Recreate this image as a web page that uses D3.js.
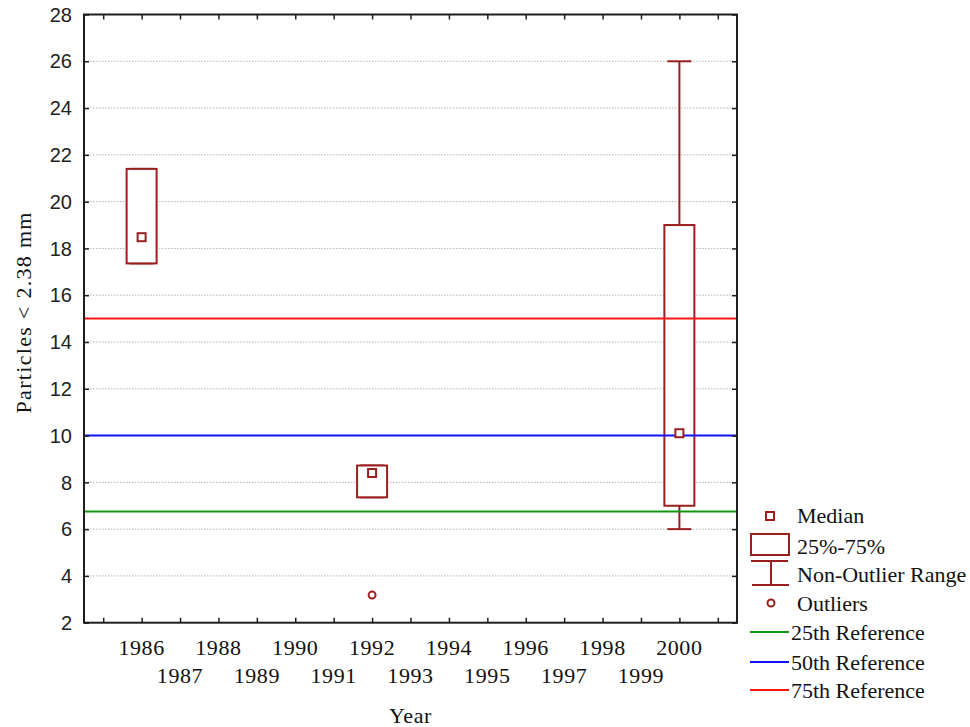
<!DOCTYPE html>
<html>
<head>
<meta charset="utf-8">
<script src="https://cdn.jsdelivr.net/npm/d3@7"></script>
<style>
  body { margin: 0; background: #fff; }
  svg { display: block; }
</style>
</head>
<body>
<svg id="chart" width="970" height="727"></svg>
<script>
// data
var years = [1986, 1992, 2000];
var q1 = [17.36, 7.36, 7.0];
var q3 = [21.4, 8.72, 19.0];
var medians = [18.48, 8.4, 10.1];
var whiskerLow = [17.36, 7.36, 6.0];
var whiskerHigh = [21.4, 8.72, 26.0];
var outlierYears = [1992];
var outlierValues = [3.18];

var refNames = ["25th Reference", "50th Reference", "75th Reference"];
var refValues = [6.75, 10, 15];
var refColors = ["#149614", "#1010ff", "#ff1414"];

var yTicks = [2, 4, 6, 8, 10, 12, 14, 16, 18, 20, 22, 24, 26, 28];
var xTicks = d3.range(1985, 2002);
var xLabels = d3.range(1986, 2001);

var boxColor = "#9a1f1f";
var serif = "'Liberation Serif', 'Times New Roman', serif";
var sans = "'Liberation Sans', Arial, sans-serif";

// plot frame
var pLeft = 84, pRight = 737, pTop = 14.5, pBottom = 622.7;

var svg = d3.select("#chart");

var x = d3.scaleLinear()
    .domain([1984.5, 2001.5])
    .range([pLeft, pRight]);

var y = d3.scaleLinear()
    .domain([2, 28])
    .range([pBottom, pTop]);

// dotted grid
svg.append("g")
    .selectAll("line")
    .data(yTicks.slice(1, -1))
    .enter()
    .append("line")
    .attr("x1", pLeft).attr("x2", pRight)
    .attr("y1", function (d) { return y(d); })
    .attr("y2", function (d) { return y(d); })
    .attr("stroke", "#b4b4b4")
    .attr("stroke-width", 1)
    .attr("stroke-dasharray", "1.5,1.5");

// boxes
var boxW = 30, capW = 24, medS = 8;
var boxes = svg.append("g");

years.forEach(function (yr, i) {
    var cx = x(yr);
    boxes.append("line")
        .attr("x1", cx).attr("x2", cx)
        .attr("y1", y(whiskerHigh[i])).attr("y2", y(whiskerLow[i]))
        .attr("stroke", boxColor).attr("stroke-width", 2);
    boxes.append("line")
        .attr("x1", cx - capW / 2).attr("x2", cx + capW / 2)
        .attr("y1", y(whiskerHigh[i])).attr("y2", y(whiskerHigh[i]))
        .attr("stroke", boxColor).attr("stroke-width", 2);
    boxes.append("line")
        .attr("x1", cx - capW / 2).attr("x2", cx + capW / 2)
        .attr("y1", y(whiskerLow[i])).attr("y2", y(whiskerLow[i]))
        .attr("stroke", boxColor).attr("stroke-width", 2);
    boxes.append("rect")
        .attr("x", cx - boxW / 2)
        .attr("y", y(q3[i]))
        .attr("width", boxW)
        .attr("height", y(q1[i]) - y(q3[i]))
        .attr("fill", "#fff")
        .attr("stroke", boxColor).attr("stroke-width", 2);
});

// reference lines
svg.append("g")
    .selectAll("line")
    .data(refValues)
    .enter()
    .append("line")
    .attr("x1", pLeft).attr("x2", pRight)
    .attr("y1", function (d) { return y(d); })
    .attr("y2", function (d) { return y(d); })
    .attr("stroke", function (d, i) { return refColors[i]; })
    .attr("stroke-width", 2);

// medians and outliers
svg.append("g")
    .selectAll("rect")
    .data(medians)
    .enter()
    .append("rect")
    .attr("x", function (d, i) { return x(years[i]) - medS / 2; })
    .attr("y", function (d) { return y(d) - medS / 2; })
    .attr("width", medS).attr("height", medS)
    .attr("fill", "#fff")
    .attr("stroke", boxColor).attr("stroke-width", 2);

svg.append("g")
    .selectAll("circle")
    .data(outlierValues)
    .enter()
    .append("circle")
    .attr("cx", function (d, i) { return x(outlierYears[i]); })
    .attr("cy", function (d) { return y(d); })
    .attr("r", 3.5)
    .attr("fill", "#fff")
    .attr("stroke", boxColor).attr("stroke-width", 2);

// axes (ticks inward on all four sides)
var axisColor = "#1e1e1e";
function styleTicks(g) {
    g.select(".domain").remove();
    g.selectAll("line").attr("stroke", axisColor).attr("stroke-width", 1.5);
}
svg.append("g")
    .attr("transform", "translate(" + pLeft + ",0)")
    .call(d3.axisRight(y).tickValues(yTicks).tickSize(5).tickFormat(""))
    .call(styleTicks);
svg.append("g")
    .attr("transform", "translate(" + pRight + ",0)")
    .call(d3.axisLeft(y).tickValues(yTicks).tickSize(5).tickFormat(""))
    .call(styleTicks);
svg.append("g")
    .attr("transform", "translate(0," + pBottom + ")")
    .call(d3.axisTop(x).tickValues(xTicks).tickSize(5).tickFormat(""))
    .call(styleTicks);
svg.append("g")
    .attr("transform", "translate(0," + pTop + ")")
    .call(d3.axisBottom(x).tickValues(xTicks).tickSize(5).tickFormat(""))
    .call(styleTicks);

svg.append("rect")
    .attr("x", pLeft).attr("y", pTop)
    .attr("width", pRight - pLeft).attr("height", pBottom - pTop)
    .attr("fill", "none")
    .attr("stroke", axisColor).attr("stroke-width", 2);

// tick labels
svg.append("g")
    .selectAll("text")
    .data(yTicks)
    .enter()
    .append("text")
    .attr("x", 72)
    .attr("y", function (d) { return y(d); })
    .attr("dy", "0.36em")
    .attr("text-anchor", "end")
    .style("font-family", sans)
    .style("font-size", "20px")
    .style("fill", "#222")
    .text(function (d) { return d; });

svg.append("g")
    .selectAll("text")
    .data(xLabels)
    .enter()
    .append("text")
    .attr("x", function (d) { return x(d); })
    .attr("y", function (d) { return d % 2 == 0 ? 655 : 682.5; })
    .attr("text-anchor", "middle")
    .style("font-family", serif)
    .style("font-size", "22px")
    .style("letter-spacing", "0.6px")
    .style("fill", "#111")
    .text(function (d) { return d; });

// axis titles
svg.append("text")
    .attr("x", (pLeft + pRight) / 2)
    .attr("y", 723)
    .attr("text-anchor", "middle")
    .style("font-family", serif)
    .style("font-size", "22px")
    .style("letter-spacing", "0.6px")
    .style("fill", "#111")
    .text("Year");

svg.append("text")
    .attr("transform", "translate(23,313) rotate(-90)")
    .attr("text-anchor", "middle")
    .attr("dy", "0.35em")
    .attr("textLength", 201)
    .attr("lengthAdjust", "spacing")
    .style("font-family", serif)
    .style("font-size", "22px")
    .style("fill", "#111")
    .text("Particles < 2.38 mm");

// legend
var lg = svg.append("g");
var iconX = 770, textX = 797;

lg.append("rect")
    .attr("x", iconX - 4).attr("y", 512)
    .attr("width", 8).attr("height", 8)
    .attr("fill", "#fff").attr("stroke", boxColor).attr("stroke-width", 2);
lg.append("rect")
    .attr("x", 751).attr("y", 534)
    .attr("width", 38).attr("height", 21)
    .attr("fill", "#fff").attr("stroke", boxColor).attr("stroke-width", 2);
lg.append("line")
    .attr("x1", 751).attr("x2", 788).attr("y1", 561).attr("y2", 561)
    .attr("stroke", boxColor).attr("stroke-width", 2);
lg.append("line")
    .attr("x1", 752).attr("x2", 789).attr("y1", 585).attr("y2", 585)
    .attr("stroke", boxColor).attr("stroke-width", 2);
lg.append("line")
    .attr("x1", iconX + 1).attr("x2", iconX + 1).attr("y1", 561).attr("y2", 585)
    .attr("stroke", boxColor).attr("stroke-width", 2);
lg.append("circle")
    .attr("cx", iconX + 1).attr("cy", 603).attr("r", 3.5)
    .attr("fill", "#fff").attr("stroke", boxColor).attr("stroke-width", 2);

var legendLabels = ["Median", "25%-75%", "Non-Outlier Range", "Outliers"];
var legendY = [515, 546, 574, 603];
lg.selectAll("text.sym")
    .data(legendLabels)
    .enter()
    .append("text")
    .attr("class", "sym")
    .attr("x", textX)
    .attr("y", function (d, i) { return legendY[i]; })
    .attr("dy", "0.35em")
    .style("font-family", serif)
    .style("font-size", "22px")
    .style("fill", "#111")
    .text(function (d) { return d; });

var refY = [632, 662, 690];
lg.selectAll("line.ref")
    .data(refNames)
    .enter()
    .append("line")
    .attr("class", "ref")
    .attr("x1", 750).attr("x2", 789)
    .attr("y1", function (d, i) { return refY[i]; })
    .attr("y2", function (d, i) { return refY[i]; })
    .attr("stroke", function (d, i) { return refColors[i]; })
    .attr("stroke-width", 2);
lg.selectAll("text.ref")
    .data(refNames)
    .enter()
    .append("text")
    .attr("class", "ref")
    .attr("x", 791)
    .attr("y", function (d, i) { return refY[i]; })
    .attr("dy", "0.35em")
    .style("font-family", serif)
    .style("font-size", "22px")
    .style("fill", "#111")
    .text(function (d) { return d; });
</script>
</body>
</html>
